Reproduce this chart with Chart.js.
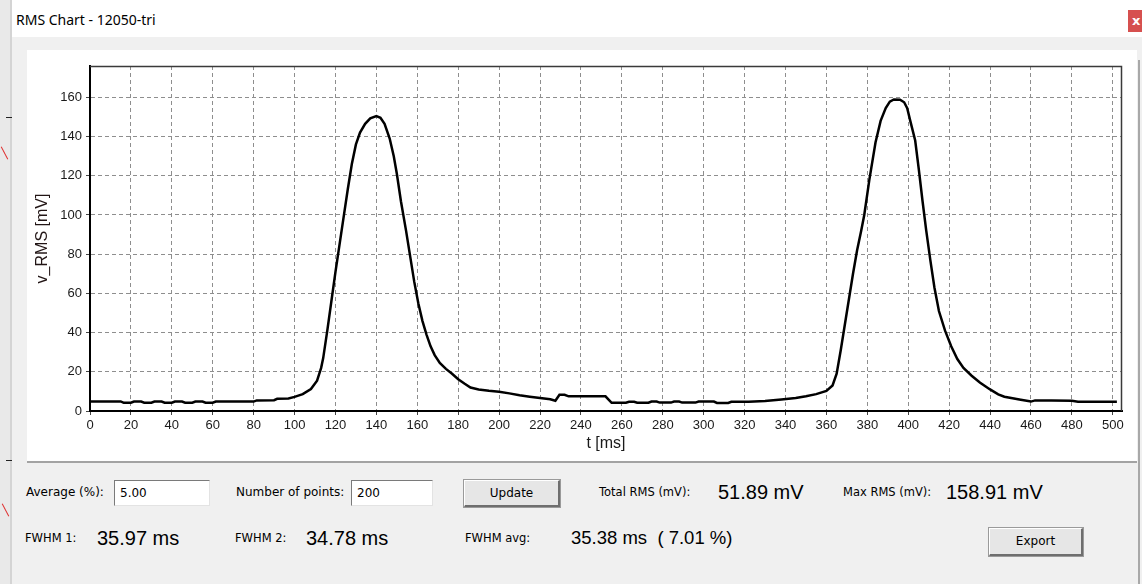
<!DOCTYPE html>
<html>
<head>
<meta charset="utf-8">
<title>RMS Chart - 12050-tri</title>
<script src="https://cdn.jsdelivr.net/npm/chart.js@4.4.1/dist/chart.umd.min.js"></script>
<style>
  html, body { margin: 0; padding: 0; width: 1142px; height: 584px; overflow: hidden; background: #f0f0f0; }
  .abs { position: absolute; }
  #shade { left: 0; top: 0; width: 10px; height: 584px; background: #e9e9e9; }
  #edge { left: 10px; top: 0; width: 2px; height: 584px; background: #d4d4d4; }
  .mark { height: 1px; background: #222; }
  .rmark { width: 1px; height: 14px; background: #e03030; transform: rotate(-28deg); }
  #titlebar { left: 12px; top: 0; width: 1130px; height: 37px; background: #fff; }
  #title { left: 16px; top: 10px; font: 14px "Noto Sans", "Open Sans", sans-serif; color: #000; white-space: nowrap; }
  #close { left: 1128px; top: 10px; width: 14px; height: 22px; background: #d6504f; color: #fff;
           font: bold 13px "DejaVu Sans", sans-serif; line-height: 22px; padding-left: 4px; box-sizing: border-box; overflow: hidden; }
  #panel { left: 27px; top: 50px; width: 1110px; height: 411px; background: #fff; border-bottom: 2px solid #a3a3a3; }
  #chartBox { left: 0; top: 0; width: 1110px; height: 411px; }
  #sidebar { left: 1138px; top: 60px; width: 2px; height: 524px; background: #a8a8a8; }
  .lbl { font: 12px "DejaVu Sans", sans-serif; color: #000; white-space: nowrap; height: 20px; line-height: 20px; }
  .small { font-size: 11.5px; }
  .val { font: 20px "Liberation Sans", Arial, sans-serif; color: #000; white-space: nowrap; height: 24px; line-height: 24px; }
  .val.avg { font-size: 18.5px; }
  .edit { background: #fff; box-sizing: border-box; border-top: 1px solid #7a7a7a; border-left: 1px solid #7a7a7a;
          border-right: 1px solid #e3e3e3; border-bottom: 1px solid #e3e3e3;
          font: 12px "DejaVu Sans", sans-serif; color: #000; padding-left: 5px; line-height: 24px; }
  .btn { box-sizing: border-box; background: #e6e6e6; border-top: 1px solid #fff; border-left: 1px solid #fff;
         border-right: 2px solid #6e6e6e; border-bottom: 2px solid #6e6e6e; outline: 1px solid #9a9a9a;
         font: 12px "DejaVu Sans", sans-serif; color: #000; text-align: center; }
</style>
</head>
<body>
<div id="shade" class="abs"></div>
<div id="edge" class="abs"></div>
<div class="abs mark" style="left:6px;top:117px;width:6px;"></div>
<div class="abs rmark" style="left:4px;top:146px;"></div>
<div class="abs mark" style="left:6px;top:460px;width:6px;"></div>
<div class="abs rmark" style="left:5px;top:503px;"></div>

<div id="titlebar" class="abs"></div>
<div id="title" class="abs">RMS Chart - 12050-tri</div>
<div id="close" class="abs">x</div>

<div id="panel" class="abs">
  <div id="chartBox" class="abs"><canvas id="rms"></canvas></div>
</div>
<div id="sidebar" class="abs"></div>

<!-- controls, first row -->
<div class="abs lbl" style="left:26px;top:482px;">Average (%):</div>
<div class="abs edit" style="left:114px;top:480px;width:96px;height:26px;">5.00</div>
<div class="abs lbl" style="left:236px;top:482px;">Number of points:</div>
<div class="abs edit" style="left:351px;top:480px;width:82px;height:26px;">200</div>
<div class="abs btn" style="left:464px;top:480px;width:96px;height:27px;line-height:24px;">Update</div>
<div class="abs lbl small" style="left:599px;top:482px;">Total RMS (mV):</div>
<div class="abs val" style="left:718px;top:480px;">51.89 mV</div>
<div class="abs lbl small" style="left:843px;top:482px;">Max RMS (mV):</div>
<div class="abs val" style="left:946px;top:480px;">158.91 mV</div>

<!-- controls, second row -->
<div class="abs lbl small" style="left:25px;top:528px;">FWHM 1:</div>
<div class="abs val" style="left:97px;top:526px;">35.97 ms</div>
<div class="abs lbl small" style="left:235px;top:528px;">FWHM 2:</div>
<div class="abs val" style="left:306px;top:526px;">34.78 ms</div>
<div class="abs lbl small" style="left:465px;top:528px;">FWHM avg:</div>
<div class="abs val avg" style="left:571px;top:526px;">35.38 ms&nbsp;&nbsp;( 7.01 %)</div>
<div class="abs btn" style="left:989px;top:528px;width:94px;height:28px;line-height:25px;">Export</div>

<script>
// sampled RMS trace: time in ms, RMS voltage in mV
const tMs = [
  0, 15, 16.5, 20, 21.5, 25, 26.5, 30, 31.5, 35, 36.5, 40, 41.5, 45, 46.5, 50, 51.5, 55, 56.5, 60,
  61.5, 80, 81.5, 90, 91.5, 97, 100, 104, 108, 111, 113, 114,
  116, 118, 120, 122, 124, 126, 128, 130, 132, 134.5, 137, 140, 142, 144, 146.5, 148.5, 150, 152,
  154.5, 156.5, 158.5, 160.5, 162.5, 164.5, 166.5, 168.5, 171, 174, 177, 180, 183, 186, 190, 195,
  200, 205, 210, 215, 220, 225, 227.5, 229.5, 232, 234, 252, 255,
  262, 263.5, 266, 267.5, 273, 274.5, 277, 278.5, 284, 285.5, 288, 289.5, 296, 297.5, 305, 306.5,
  312, 313.5, 322, 330, 338, 345, 350, 355, 360, 363,
  365, 367, 369, 371, 373, 375, 377, 378.5, 381, 384, 386.5, 389, 391, 393, 396, 398, 399.5, 401,
  403.4, 405.2, 407, 408.8, 410.8, 412.8, 415, 418, 421, 424, 427, 431, 435, 440, 444, 447, 451,
  455, 460, 462, 470, 480, 483, 502
];
const vRms = [
  4.9, 4.9, 4.2, 4.2, 4.8, 4.8, 4.2, 4.2, 4.8, 4.8, 4.2, 4.2, 4.8, 4.8, 4.2, 4.2, 4.8, 4.8, 4.2, 4.2,
  4.8, 4.8, 5.4, 5.5, 6.2, 6.4, 7.2, 8.6, 11.2, 15.5, 22, 27,
  41, 56, 71, 85, 99, 113, 126, 136, 142, 146.5, 149.3, 150.4, 149.6, 146.5, 139, 130, 121, 107,
  92, 79, 66, 55, 46, 39, 33, 28.5, 24.5, 21.5, 19, 16.2, 14, 12, 11, 10.3,
  9.8, 9, 8, 7.3, 6.6, 6, 5.2, 8.3, 8.3, 7.5, 7.5, 4.2,
  4.2, 4.7, 4.7, 4.2, 4.2, 4.8, 4.8, 4.3, 4.3, 4.8, 4.8, 4.3, 4.3, 4.8, 4.8, 4.1,
  4.1, 4.7, 4.7, 5.1, 5.9, 6.6, 7.5, 8.6, 10.2, 13,
  19, 31, 44, 57, 70, 82, 92, 100, 118, 137, 148, 154.5, 157.8, 158.91, 158.8, 157.5, 154.5, 148,
  138, 123, 107, 92, 77, 63, 51, 41, 33, 26.5, 22, 18, 14.5, 11, 8.5, 7.3, 6.5,
  5.7, 4.8, 5.4, 5.3, 5.2, 4.7, 4.7
];

// axis ranges and tick spacing
const xRange = [0, 504.5];
const yRange = [0, 176];
const xStep = 20;
const yStep = 20;
const xTitle = 't [ms]';
const yTitle = 'v_RMS [mV]';

const points = tMs.map((t, i) => ({ x: t, y: vRms[i] }));

const tickFont = { family: '"Liberation Sans", Arial, sans-serif', size: 13 };
const titleFont = { family: '"Liberation Sans", Arial, sans-serif', size: 16 };
const gridStyle = {
  color: '#8e8e8e', lineWidth: 1,
  drawTicks: true, tickLength: 4, tickColor: '#444', tickWidth: 1, tickBorderDash: []
};
const axisBorder = { display: true, color: '#000', width: 2, dash: [4, 3] };

// thin frame along the top and right of the plot
const framePlugin = {
  id: 'frame',
  afterDatasetsDraw(chart) {
    const { ctx, chartArea: a } = chart;
    ctx.save();
    ctx.strokeStyle = '#3a3a3a';
    ctx.lineWidth = 1.5;
    ctx.beginPath();
    ctx.moveTo(a.left, a.top + 0.5);
    ctx.lineTo(a.right - 0.5, a.top + 0.5);
    ctx.lineTo(a.right - 0.5, a.bottom);
    ctx.stroke();
    ctx.restore();
  }
};

new Chart(document.getElementById('rms'), {
  type: 'line',
  data: {
    datasets: [{
      data: points,
      borderColor: '#000',
      borderWidth: 2.5,
      pointRadius: 0,
      tension: 0,
      fill: false
    }]
  },
  options: {
    responsive: true,
    maintainAspectRatio: false,
    animation: false,
    events: [],
    layout: { padding: { left: 0, top: 16, right: 15, bottom: 0 } },
    plugins: { legend: { display: false }, tooltip: { enabled: false } },
    scales: {
      x: {
        type: 'linear',
        min: xRange[0], max: xRange[1],
        afterFit(s) { s.height = 50; },
        ticks: { stepSize: xStep, includeBounds: false, autoSkip: false, maxRotation: 0,
                 font: tickFont, color: '#1a1a1a', padding: 3 },
        grid: gridStyle,
        border: axisBorder,
        title: { display: true, text: xTitle, font: titleFont, color: '#1a1a1a', padding: { top: 0, bottom: 8 } }
      },
      y: {
        type: 'linear',
        min: yRange[0], max: yRange[1],
        afterFit(s) { s.width = 63; },
        ticks: { stepSize: yStep, includeBounds: false, font: tickFont, color: '#1a1a1a', padding: 4 },
        grid: gridStyle,
        border: axisBorder,
        title: { display: true, text: yTitle, font: titleFont, color: '#221515', padding: { top: 6, bottom: 0 } }
      }
    }
  },
  plugins: [framePlugin]
});
</script>
</body>
</html>
